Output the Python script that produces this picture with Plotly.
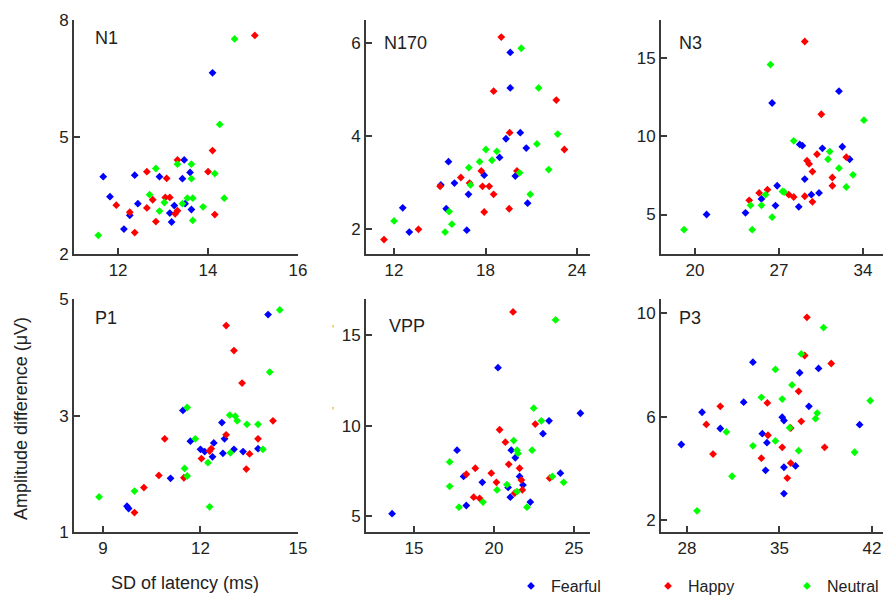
import plotly.graph_objects as go

# ---------------------------------------------------------------------------
# Data: SD of latency (ms) vs amplitude difference (uV), per component/emotion
# ---------------------------------------------------------------------------

# N1
n1_fearful_x = [14.10, 13.47, 11.67, 12.37, 12.92, 13.43, 13.60, 11.82, 12.44, 12.26, 13.25, 13.15, 13.49, 13.63, 13.19, 12.13]
n1_fearful_y = [6.64, 4.41, 3.98, 4.02, 3.98, 3.93, 4.09, 3.47, 3.29, 2.99, 3.24, 3.05, 3.29, 3.14, 2.82, 2.64]
n1_happy_x = [15.04, 14.10, 13.32, 12.64, 13.08, 14.00, 12.77, 13.05, 13.15, 11.96, 12.26, 12.64, 12.84, 13.32, 13.27, 14.15, 12.37]
n1_happy_y = [7.60, 4.65, 4.41, 4.11, 3.94, 4.11, 3.39, 3.45, 3.45, 3.25, 3.07, 3.18, 2.83, 3.11, 3.03, 3.01, 2.55]
n1_neutral_x = [11.56, 14.59, 14.26, 12.84, 13.32, 13.63, 13.63, 14.15, 12.70, 13.03, 12.92, 13.54, 13.66, 13.43, 13.89, 14.36, 13.66]
n1_neutral_y = [2.48, 7.51, 5.32, 4.19, 4.30, 4.30, 3.93, 4.06, 3.52, 3.32, 3.10, 3.43, 3.43, 3.29, 3.21, 3.43, 2.86]

# N170
n170_fearful_x = [19.62, 19.62, 20.28, 19.34, 20.67, 18.92, 15.57, 15.07, 15.96, 17.91, 16.88, 19.95, 15.42, 12.57, 13.00, 16.77, 20.76]
n170_fearful_y = [5.79, 5.03, 4.07, 3.94, 3.74, 3.54, 3.45, 2.95, 2.99, 3.16, 2.75, 3.14, 2.44, 2.46, 1.94, 1.98, 2.56]
n170_happy_x = [19.03, 18.53, 22.64, 19.58, 23.17, 11.34, 13.60, 15.02, 16.38, 16.95, 17.72, 17.80, 18.24, 18.53, 17.91, 19.55, 20.06]
n170_happy_y = [6.12, 4.96, 4.77, 4.07, 3.71, 1.78, 2.00, 2.92, 3.11, 2.99, 3.25, 2.92, 2.92, 2.75, 2.37, 2.44, 3.25]
n170_neutral_x = [20.34, 21.48, 22.73, 21.37, 22.14, 18.02, 18.74, 17.61, 18.42, 16.90, 17.01, 20.23, 20.93, 15.61, 15.79, 15.35, 12.00]
n170_neutral_y = [5.88, 5.03, 4.04, 3.83, 3.28, 3.71, 3.67, 3.45, 3.48, 3.32, 2.95, 3.21, 2.75, 2.38, 2.11, 1.94, 2.18]

# N3
n3_fearful_x = [26.43, 32.00, 28.73, 28.95, 30.62, 32.28, 32.89, 26.85, 29.15, 25.54, 26.71, 28.65, 29.70, 30.34, 24.21, 20.97]
n3_fearful_y = [12.14, 12.90, 9.49, 9.41, 9.24, 9.34, 8.54, 6.84, 7.27, 6.00, 5.57, 5.49, 6.27, 6.38, 5.11, 5.00]
n3_happy_x = [29.15, 30.53, 30.17, 29.34, 29.51, 29.79, 32.61, 31.45, 31.45, 24.52, 25.35, 26.04, 27.82, 28.23, 29.15, 29.79]
n3_happy_y = [16.08, 11.42, 8.86, 8.45, 8.24, 7.75, 8.67, 7.37, 6.84, 5.91, 6.38, 6.59, 6.27, 6.12, 6.17, 5.81]
n3_neutral_x = [26.29, 34.08, 28.23, 31.23, 31.09, 32.00, 33.17, 32.61, 25.88, 27.29, 27.43, 24.63, 25.54, 26.43, 24.77, 19.09]
n3_neutral_y = [14.60, 11.04, 9.72, 9.03, 8.54, 7.97, 7.54, 6.76, 6.27, 6.48, 6.44, 5.59, 5.59, 4.83, 4.03, 4.03]

# P1
p1_fearful_x = [14.08, 11.46, 12.66, 12.74, 11.69, 12.41, 12.00, 12.13, 12.37, 12.69, 13.03, 13.31, 13.77, 11.08, 9.74, 9.79]
p1_fearful_y = [4.74, 3.09, 2.88, 2.60, 2.56, 2.53, 2.42, 2.38, 2.29, 2.35, 2.42, 2.38, 2.43, 1.92, 1.44, 1.40]
p1_happy_x = [12.79, 13.03, 13.28, 14.23, 12.79, 13.77, 13.51, 13.41, 12.33, 12.03, 10.90, 10.72, 11.49, 10.26, 9.97, 12.28]
p1_happy_y = [4.55, 4.12, 3.56, 2.91, 2.67, 2.60, 2.34, 2.08, 2.43, 2.26, 2.60, 1.97, 1.93, 1.76, 1.33, 2.39]
p1_neutral_x = [14.44, 14.13, 11.59, 12.90, 13.07, 13.13, 13.43, 13.77, 11.84, 13.92, 12.92, 12.23, 11.51, 11.59, 9.97, 8.88, 12.28]
p1_neutral_y = [4.82, 3.75, 3.14, 3.01, 2.99, 2.91, 2.85, 2.85, 2.60, 2.42, 2.36, 2.19, 2.09, 1.96, 1.70, 1.60, 1.43]

# VPP
vpp_fearful_x = [20.25, 25.40, 23.44, 23.06, 21.08, 21.33, 17.69, 18.10, 19.27, 21.60, 21.81, 20.88, 21.02, 22.27, 18.27, 24.15, 13.63]
vpp_fearful_y = [13.20, 10.68, 10.26, 9.55, 8.64, 8.22, 8.64, 7.19, 6.86, 7.19, 6.71, 6.58, 6.04, 5.77, 5.58, 7.37, 5.13]
vpp_happy_x = [21.19, 20.35, 22.58, 20.71, 20.92, 21.60, 18.83, 18.27, 19.83, 20.15, 21.71, 21.77, 21.29, 18.73, 19.10, 23.48]
vpp_happy_y = [16.28, 9.77, 10.08, 9.08, 7.86, 7.64, 7.64, 7.31, 7.37, 6.86, 6.99, 6.44, 6.26, 6.04, 5.98, 7.09]
vpp_neutral_x = [23.85, 22.48, 22.96, 21.23, 21.44, 21.50, 22.38, 17.23, 17.23, 20.19, 20.81, 21.44, 19.31, 17.81, 22.06, 23.65, 24.35]
vpp_neutral_y = [15.84, 10.96, 10.26, 9.17, 8.64, 8.46, 8.64, 7.99, 6.64, 6.44, 6.73, 6.35, 5.77, 5.49, 5.49, 7.19, 6.86]

# P3
p3_fearful_x = [32.99, 37.96, 36.53, 32.29, 37.23, 29.14, 35.21, 35.34, 41.07, 30.52, 33.70, 34.05, 27.57, 35.34, 36.22, 33.95, 35.34]
p3_fearful_y = [8.11, 7.87, 7.70, 6.56, 6.40, 6.17, 5.98, 5.85, 5.69, 5.54, 5.34, 4.99, 4.92, 4.04, 4.09, 3.92, 3.02]
p3_happy_x = [37.08, 36.91, 38.92, 36.45, 34.08, 30.52, 36.65, 29.46, 35.85, 34.13, 35.21, 38.42, 29.97, 33.63, 35.85, 35.59]
p3_happy_y = [9.85, 8.37, 8.06, 6.98, 6.53, 6.40, 5.82, 5.70, 5.56, 5.28, 4.81, 4.81, 4.55, 4.39, 4.20, 3.62]
p3_neutral_x = [38.34, 36.65, 34.69, 35.95, 33.63, 35.21, 41.87, 37.86, 37.73, 35.77, 30.98, 34.69, 32.99, 36.45, 40.69, 31.41, 28.76]
p3_neutral_y = [9.45, 8.43, 7.83, 7.23, 6.75, 6.68, 6.62, 6.14, 5.92, 5.57, 5.41, 5.06, 4.87, 4.68, 4.62, 3.69, 2.35]

emotions = ["Fearful", "Happy", "Neutral"]
colors = {"Fearful": "#0000ff", "Happy": "#ff0000", "Neutral": "#00ff00"}

# panel name -> (x lists, y lists, x range, x ticks, y range, y ticks, row, col)
panels = [
    ("N1", [n1_fearful_x, n1_happy_x, n1_neutral_x], [n1_fearful_y, n1_happy_y, n1_neutral_y],
     [11.02, 16], [12, 14, 16], [2, 8], [2, 5, 8], 0, 0),
    ("N170", [n170_fearful_x, n170_happy_x, n170_neutral_x], [n170_fearful_y, n170_happy_y, n170_neutral_y],
     [10.16, 24.85], [12, 18, 24], [1.47, 6.49], [2, 4, 6], 0, 1),
    ("N3", [n3_fearful_x, n3_happy_x, n3_neutral_x], [n3_fearful_y, n3_happy_y, n3_neutral_y],
     [17.17, 35.67], [20, 27, 34], [2.47, 17.47], [5, 10, 15], 0, 2),
    ("P1", [p1_fearful_x, p1_happy_x, p1_neutral_x], [p1_fearful_y, p1_happy_y, p1_neutral_y],
     [8.11, 15], [9, 12, 15], [1, 5], [1, 3, 5], 1, 0),
    ("VPP", [vpp_fearful_x, vpp_happy_x, vpp_neutral_x], [vpp_fearful_y, vpp_happy_y, vpp_neutral_y],
     [12, 26], [15, 20, 25], [4.13, 16.97], [5, 10, 15], 1, 1),
    ("P3", [p3_fearful_x, p3_happy_x, p3_neutral_x], [p3_fearful_y, p3_happy_y, p3_neutral_y],
     [26.03, 42.84], [28, 35, 42], [1.54, 10.54], [2, 6, 10], 1, 2),
]

# ---------------------------------------------------------------------------
# Layout geometry: positions are window pixels of the 885 x 603 page.
# The body margin is zeroed after plotting, so the figure fills the window.
# ---------------------------------------------------------------------------
W, H = 885, 603


def fx(px):
    return px / W


def fy(py):
    return 1 - py / H


col_px = [(74, 298), (366, 590), (661, 883)]
row_px = [(20, 257), (303, 538)]
title_px = {"N1": (93, 38), "N170": (382, 43), "N3": (677, 43),
            "P1": (93, 322), "VPP": (387, 330), "P3": (677, 322)}
LEGEND_Y = 593

AXIS_COLOR = "#3a3a3a"
TEXT_COLOR = "#222222"
FONT = "Arial, Liberation Sans, sans-serif"

fig = go.Figure()
layout = {}
annotations = []

for i, (name, xs, ys, xr, xt, yr, yt, row, col) in enumerate(panels, 1):
    suffix = "" if i == 1 else str(i)
    for k, (emo, x, y) in enumerate(zip(emotions, xs, ys)):
        fig.add_trace(go.Scatter(
            x=x, y=y, mode="markers", name=emo,
            marker=dict(symbol="diamond", size=6, color=colors[emo], line=dict(width=0)),
            xaxis="x" + suffix, yaxis="y" + suffix,
            showlegend=(i == 1), legendgroup=emo,
            legend="legend" if k == 0 else f"legend{k + 1}",
        ))

    x0, x1 = col_px[col]
    y0, y1 = row_px[row]
    common = dict(
        showline=True, linecolor=AXIS_COLOR, linewidth=2,
        ticks="inside", ticklen=6, tickwidth=1.5, tickcolor=AXIS_COLOR,
        showgrid=False, zeroline=False, mirror=False, automargin=False,
        tickfont=dict(family=FONT, size=17, color=TEXT_COLOR),
    )
    layout["xaxis" + suffix] = dict(
        common, domain=[fx(x0), fx(x1)], range=xr, tickvals=xt,
        anchor="y" + suffix,
    )
    layout["yaxis" + suffix] = dict(
        common, domain=[fy(y1), fy(y0)], range=yr, tickvals=yt,
        anchor="x" + suffix,
    )

    tx, ty = title_px[name]
    annotations.append(dict(
        text=name, x=fx(tx), y=fy(ty), xref="paper", yref="paper",
        xanchor="left", yanchor="middle", showarrow=False,
        font=dict(family=FONT, size=18, color=TEXT_COLOR),
    ))

# axis titles
annotations.append(dict(
    text="Amplitude difference (\u03bcV)", x=fx(21), y=fy(424),
    xref="paper", yref="paper", textangle=-90, showarrow=False,
    xanchor="center", yanchor="middle",
    font=dict(family=FONT, size=18, color=TEXT_COLOR),
))
annotations.append(dict(
    text="SD of latency (ms)", x=fx(185), y=fy(590),
    xref="paper", yref="paper", showarrow=False,
    xanchor="center", yanchor="middle",
    font=dict(family=FONT, size=18, color=TEXT_COLOR),
))

# small scan specks left of the VPP tick labels
for sy in (333, 424):
    annotations.append(dict(
        text="'", x=fx(333), y=fy(sy), xref="paper", yref="paper",
        showarrow=False, font=dict(family=FONT, size=11, color="#c0a040"),
    ))

# one legend per emotion so each entry sits where the reference puts it
legend_left = {"Fearful": 511, "Happy": 648, "Neutral": 787}
legends = {}
for k, emo in enumerate(emotions):
    key = "legend" if k == 0 else f"legend{k + 1}"
    legends[key] = dict(
        x=fx(legend_left[emo]), y=fy(LEGEND_Y),
        xanchor="left", yanchor="middle",
        font=dict(family=FONT, size=16, color=TEXT_COLOR),
        bgcolor="rgba(0,0,0,0)", borderwidth=0,
    )

fig.update_layout(
    **layout,
    **legends,
    annotations=annotations,
    width=W, height=H,
    margin=dict(l=0, r=0, t=0, b=0),
    paper_bgcolor="white", plot_bgcolor="white",
)

fig.write_html(
    "out.html",
    config={"displayModeBar": False},
    post_script="document.body.style.margin = '0px';",
)
